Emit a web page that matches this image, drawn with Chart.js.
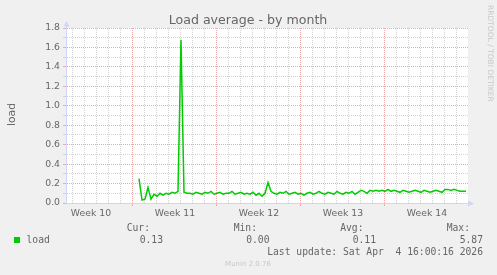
<!DOCTYPE html>
<html>
<head>
<meta charset="utf-8">
<title>Load average - by month</title>
<script src="https://cdn.jsdelivr.net/npm/chart.js@4.4.1/dist/chart.umd.min.js"></script>
<style>
html, body { margin: 0; padding: 0; background: #f0f0f0; }
canvas { display: block; }
</style>
</head>
<body>
<canvas id="loadChart" width="497" height="275"></canvas>
<script>
// x is in days from the left edge of the graph, one load sample every 6 hours
const sampleStart = 6.083;
const sampleStep = 0.25;
const loadValues = [
    0.25, 0.03, 0.04, 0.16, 0.04, 0.09, 0.07, 0.10, 0.08, 0.10,
    0.09, 0.11, 0.10, 0.12, 1.68, 0.11, 0.10, 0.10, 0.09, 0.11,
    0.10, 0.09, 0.11, 0.10, 0.12, 0.09, 0.10, 0.11, 0.09, 0.10,
    0.10, 0.12, 0.09, 0.10, 0.11, 0.09, 0.10, 0.09, 0.11, 0.08,
    0.10, 0.07, 0.10, 0.21, 0.12, 0.10, 0.09, 0.11, 0.10, 0.12,
    0.09, 0.10, 0.11, 0.09, 0.10, 0.08, 0.10, 0.11, 0.09, 0.10,
    0.12, 0.10, 0.09, 0.11, 0.10, 0.09, 0.12, 0.10, 0.09, 0.11,
    0.10, 0.12, 0.09, 0.11, 0.13, 0.12, 0.10, 0.13, 0.12, 0.13,
    0.12, 0.13, 0.12, 0.14, 0.12, 0.13, 0.12, 0.11, 0.13, 0.12,
    0.11, 0.12, 0.13, 0.12, 0.11, 0.13, 0.12, 0.11, 0.12, 0.13,
    0.12, 0.11, 0.14, 0.14, 0.13, 0.14, 0.13, 0.12, 0.12, 0.12
];
const xMax = 33.5;
const firstWeekLine = 5.583;
const weekLabels = ['Week 10', 'Week 11', 'Week 12', 'Week 13', 'Week 14'];

const statLabels = ['Cur:', 'Min:', 'Avg:', 'Max:'];
const statValues = ['0.13', '0.00', '0.11', '5.87'];
const seriesName = 'load';
const lastUpdate = 'Last update: Sat Apr  4 16:00:16 2026';

const green = '#00cc00';
const axisColor = '#cfd6f8';
const gridMinor = '#d4d4d4';
const gridMajor = '#eeaaaa';
const fontColor = '#666666';

const weekCenters = weekLabels.map((l, i) => firstWeekLine - 3.5 + 7 * i);

function isWeekLine(v) {
    const k = (v - firstWeekLine) / 7;
    return Math.abs(k - Math.round(k)) < 1e-6;
}
function isCenter(v) {
    return weekCenters.some(c => Math.abs(c - v) < 1e-6);
}

const muninPlugin = {
    id: 'munin',
    beforeDraw(chart) {
        const { ctx, chartArea: a } = chart;
        ctx.save();
        ctx.fillStyle = '#f0f0f0';
        ctx.fillRect(0, 0, chart.width, chart.height);
        ctx.fillStyle = '#ffffff';
        ctx.fillRect(a.left, a.top, a.right - a.left, a.bottom - a.top);
        ctx.restore();
    },
    afterDraw(chart) {
        const { ctx, chartArea: a } = chart;
        ctx.save();
        // arrows on the axes
        ctx.fillStyle = axisColor;
        ctx.strokeStyle = axisColor;
        ctx.lineWidth = 1;
        const ax = a.left + 0.5, ay = a.bottom + 0.5;
        ctx.beginPath();
        ctx.moveTo(ax, a.top); ctx.lineTo(ax, a.top - 3);
        ctx.moveTo(a.right, ay); ctx.lineTo(a.right + 2, ay);
        ctx.stroke();
        ctx.beginPath();
        ctx.moveTo(ax - 3, a.top - 1.5); ctx.lineTo(ax + 3, a.top - 1.5); ctx.lineTo(ax, a.top - 7);
        ctx.closePath(); ctx.fill();
        ctx.beginPath();
        ctx.moveTo(a.right, ay - 3); ctx.lineTo(a.right, ay + 3); ctx.lineTo(a.right + 6, ay);
        ctx.closePath(); ctx.fill();

        // title
        ctx.fillStyle = fontColor;
        ctx.font = '12.6px "DejaVu Sans"';
        ctx.textAlign = 'center';
        ctx.textBaseline = 'alphabetic';
        ctx.fillText('Load average - by month', 248, 24);

        // y axis title
        ctx.save();
        ctx.translate(14.5, 114.5);
        ctx.rotate(-Math.PI / 2);
        ctx.font = '10.8px "DejaVu Sans"';
        ctx.textAlign = 'center';
        ctx.textBaseline = 'alphabetic';
        ctx.fillText('load', 0, 0);
        ctx.restore();

        // rrdtool watermark
        ctx.save();
        ctx.translate(487, 5);
        ctx.rotate(Math.PI / 2);
        ctx.fillStyle = '#c8c8c8';
        ctx.font = '7.5px "DejaVu Sans"';
        ctx.textAlign = 'left';
        ctx.textBaseline = 'middle';
        ctx.fillText('RRDTOOL / TOBI OETIKER', 0, -3);
        ctx.restore();

        // legend
        ctx.fillStyle = green;
        ctx.fillRect(14, 237, 6, 6);
        ctx.fillStyle = fontColor;
        ctx.font = '9.7px "DejaVu Sans Mono"';
        ctx.textBaseline = 'middle';
        ctx.textAlign = 'left';
        ctx.fillText(seriesName, 26.5, 240);
        ctx.textAlign = 'right';
        const labelRight = [150, 257, 363.5, 470];
        const valueRight = [163, 269.5, 376, 483];
        statLabels.forEach((t, i) => ctx.fillText(t, labelRight[i], 228));
        statValues.forEach((t, i) => ctx.fillText(t, valueRight[i], 240));
        ctx.fillText(lastUpdate, 483, 252);

        ctx.fillStyle = '#c8c8c8';
        ctx.font = '7px "DejaVu Sans"';
        ctx.textAlign = 'center';
        ctx.fillText('Munin 2.0.76', 248, 264);
        ctx.restore();
    }
};

const ctx = document.getElementById('loadChart').getContext('2d');
const chart = new Chart(ctx, {
    type: 'line',
    data: {
        datasets: [{
            label: seriesName,
            data: loadValues.map((v, i) => ({ x: sampleStart + i * sampleStep, y: v })),
            borderColor: green,
            borderWidth: 1.5,
            pointRadius: 0,
            fill: false,
            tension: 0
        }]
    },
    options: {
        responsive: false,
        animation: false,
        devicePixelRatio: 1,
        layout: { padding: { top: 28, right: 29, left: 0, bottom: 0 } },
        plugins: { legend: { display: false }, tooltip: { enabled: false }, title: { display: false } },
        scales: {
            x: {
                type: 'linear',
                min: 0,
                max: xMax,
                afterFit: s => { s.height = 72; },
                afterBuildTicks: s => {
                    const t = [];
                    for (let d = firstWeekLine - 5; d < xMax; d += 1) t.push({ value: d });
                    weekCenters.forEach(c => t.push({ value: c }));
                    t.sort((p, q) => p.value - q.value);
                    s.ticks = t;
                },
                ticks: {
                    autoSkip: false,
                    maxRotation: 0,
                    padding: 2,
                    color: fontColor,
                    font: { family: 'DejaVu Sans', size: 9.3 },
                    callback: v => {
                        const i = weekCenters.findIndex(c => Math.abs(c - v) < 1e-6);
                        return i >= 0 ? weekLabels[i] : '';
                    }
                },
                grid: {
                    color: c => isCenter(c.tick.value) ? 'rgba(0,0,0,0)' : (isWeekLine(c.tick.value) ? gridMajor : gridMinor),
                    tickColor: c => isWeekLine(c.tick.value) ? gridMajor : 'rgba(0,0,0,0)',
                    tickLength: 3,
                    lineWidth: 1
                },
                border: { color: axisColor, dash: [1, 1] }
            },
            y: {
                min: 0,
                max: 1.8,
                afterFit: s => { s.width = 66; },
                afterBuildTicks: s => {
                    const t = [];
                    for (let i = 0; i <= 18; i++) t.push({ value: i / 10 });
                    s.ticks = t;
                },
                ticks: {
                    autoSkip: false,
                    padding: 3,
                    color: fontColor,
                    font: { family: 'DejaVu Sans', size: 9.3 },
                    callback: v => (Math.round(v * 10) % 2 === 0 ? v.toFixed(1) : '')
                },
                grid: {
                    color: c => Math.round(c.tick.value * 10) % 2 === 0 ? gridMajor : gridMinor,
                    tickLength: 3,
                    lineWidth: 1
                },
                border: { color: axisColor, dash: [1, 1] }
            }
        }
    },
    plugins: [muninPlugin]
});
</script>
</body>
</html>
